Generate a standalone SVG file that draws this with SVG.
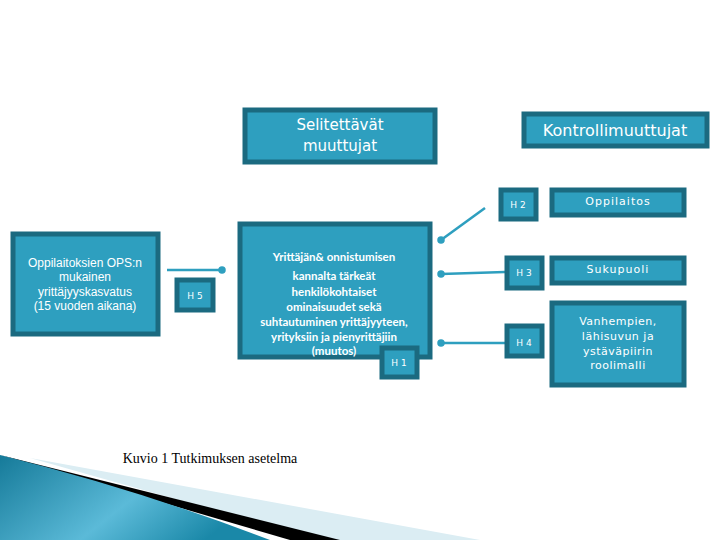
<svg xmlns="http://www.w3.org/2000/svg" width="720" height="540" viewBox="0 0 720 540">
<defs>
<style>
.b{fill:#2e9fbf;stroke:#1b6a80;stroke-width:5}
.t{font-family:"DejaVu Sans",sans-serif;fill:#fff;text-anchor:middle}
.s{font-family:"Liberation Sans",sans-serif;fill:#fff;text-anchor:middle;font-size:12px}
.h{font-family:"DejaVu Sans",sans-serif;fill:#fff;text-anchor:middle;font-size:9px}
.c{stroke:#2e9fbf;stroke-width:2.5;fill:none;marker-end:url(#d)}
</style>
<marker id="d" viewBox="0 0 6 6" refX="3" refY="3" markerWidth="3" markerHeight="3"><circle cx="3" cy="3" r="3" fill="#2e9fbf"/></marker>
<linearGradient id="g" x1="0" y1="0" x2="1" y2="0.4"><stop offset="0" stop-color="#157a99"/><stop offset="0.6" stop-color="#5bbad8"/><stop offset="1" stop-color="#1a88a8"/></linearGradient>
</defs>
<rect width="720" height="540" fill="#fff"/>
<g id="swoosh">
<polygon points="30,458 480,540 320,540" fill="#dbedf3"/>
<polygon points="0,455 340,540 290,540" fill="#000"/>
<path d="M0,455 Q140,490 270,540 L0,540 Z" fill="url(#g)"/>
</g>
<g id="connectors">
<line class="c" x1="167" y1="270" x2="222" y2="270"/>
<line class="c" x1="485" y1="208" x2="441" y2="240"/>
<line class="c" x1="505" y1="272" x2="441" y2="274"/>
<line class="c" x1="505" y1="343" x2="441" y2="343"/>
</g>
<g id="selitettavat"><rect class="b" x="245" y="110" width="190" height="52"/><text class="t" font-size="15" x="340" y="130">Selitettävät</text><text class="t" font-size="15" x="340" y="151">muuttujat</text></g>
<g id="kontrolli"><rect class="b" x="524" y="114" width="183" height="32"/><text class="t" font-size="16" x="615" y="136">Kontrollimuuttujat</text></g>
<g id="ops"><rect class="b" x="13" y="234" width="145" height="100"/><text class="s" x="85" y="267">Oppilaitoksien OPS:n</text><text class="s" x="85" y="281">mukainen</text><text class="s" x="85" y="296">yrittäjyyskasvatus</text><text class="s" x="85" y="310">(15 vuoden aikana)</text></g>
<g id="h5"><rect class="b" x="177" y="280" width="36" height="30"/><text class="h" x="195" y="299">H 5</text></g>
<g id="main"><rect class="b" x="240" y="224" width="190" height="133"/>
<g font-family="Lato,sans-serif" font-weight="bold" font-size="11.5" fill="#fff" text-anchor="middle">
<text x="334" y="261">Yrittäjän&amp; onnistumisen</text><text x="334" y="280">kannalta tärkeät</text><text x="334" y="296">henkilökohtaiset</text><text x="334" y="311">ominaisuudet sekä</text><text x="334" y="326">suhtautuminen yrittäjyyteen,</text><text x="334" y="341">yrityksiin ja pienyrittäjiin</text><text x="334" y="355">(muutos)</text></g></g>
<g id="h1"><rect class="b" x="382" y="348" width="35" height="29"/><text class="h" x="399" y="366">H 1</text></g>
<g id="h2"><rect class="b" x="501" y="190" width="35" height="29"/><text class="h" x="518" y="208">H 2</text></g>
<g id="oppilaitos"><rect class="b" x="552" y="190" width="132" height="25"/><text class="t" font-size="11" x="618" y="205" letter-spacing="1">Oppilaitos</text></g>
<g id="h3"><rect class="b" x="507" y="258" width="35" height="30"/><text class="h" x="524" y="276">H 3</text></g>
<g id="sukupuoli"><rect class="b" x="552" y="258" width="132" height="25"/><text class="t" font-size="11" x="618" y="273" letter-spacing="1">Sukupuoli</text></g>
<g id="h4"><rect class="b" x="507" y="326" width="35" height="30"/><text class="h" x="524" y="346">H 4</text></g>
<g id="vanhempien"><rect class="b" x="552" y="303" width="132" height="82"/><g class="t" font-size="11" letter-spacing="0.5"><text x="618" y="325">Vanhempien,</text><text x="618" y="340">lähisuvun ja</text><text x="618" y="355">ystäväpiirin</text><text x="618" y="369">roolimalli</text></g></g>
<text x="210" y="463" font-family="Liberation Serif,serif" font-size="14" text-anchor="middle">Kuvio 1 Tutkimuksen asetelma</text>
</svg>
